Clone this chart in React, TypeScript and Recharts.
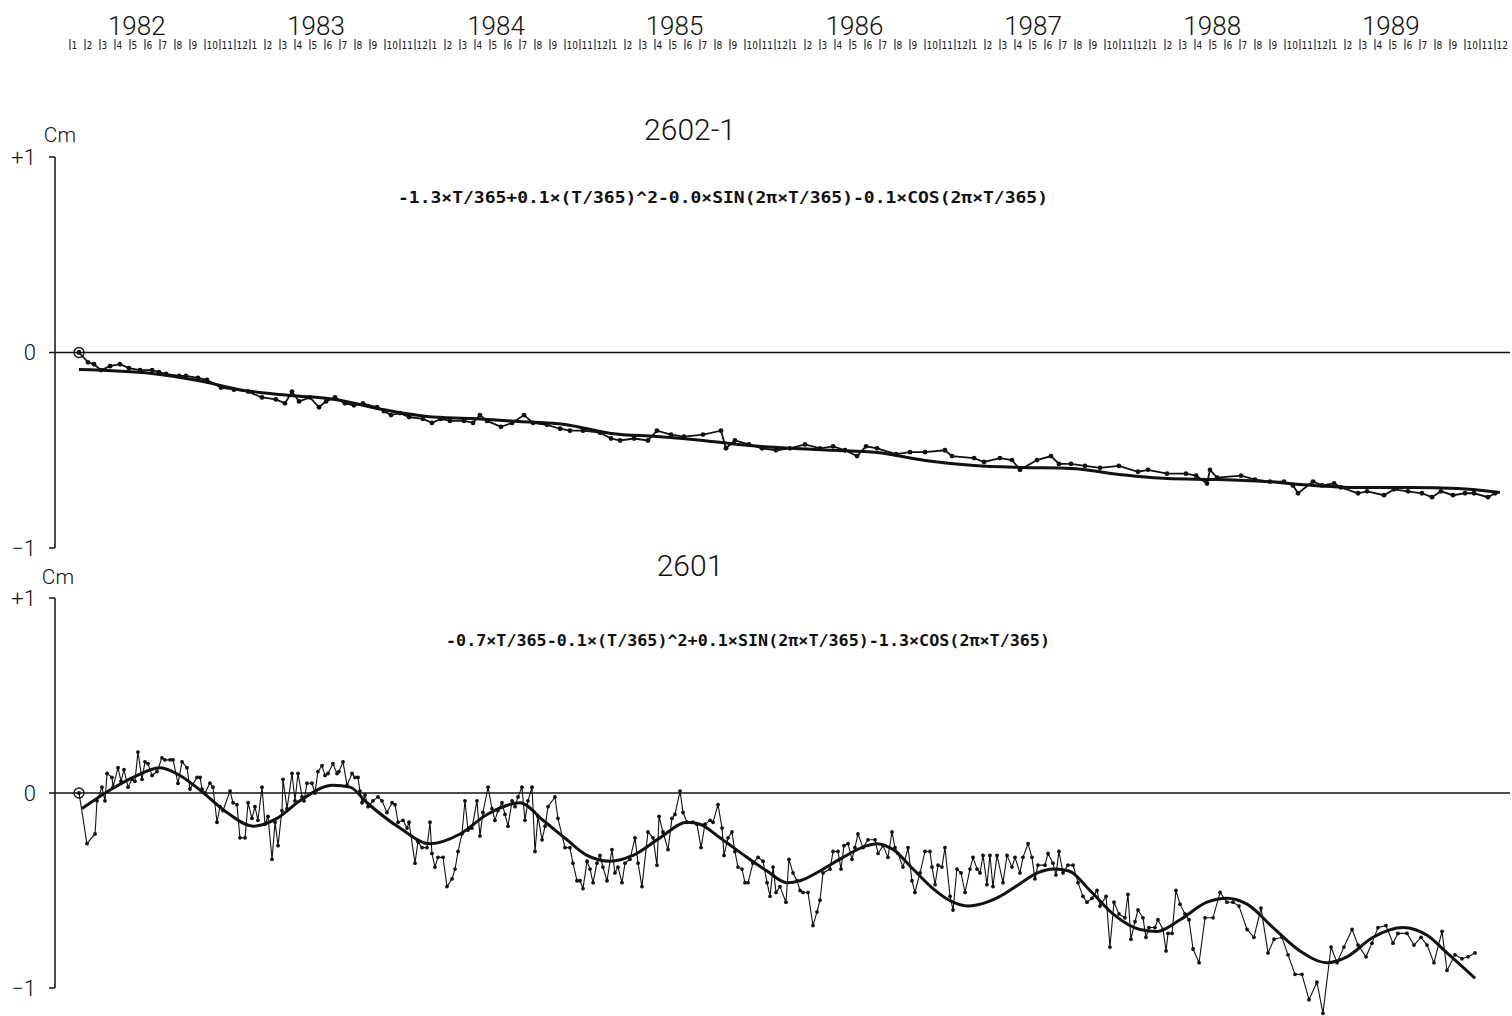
import { LineChart, Line, XAxis, YAxis, ReferenceLine, ReferenceDot } from 'recharts';

const INK = '#111';
const THIN = 'Roboto, "DejaVu Sans", sans-serif';

// x unit = months since Jan 1982
const YEARS = ['1982', '1983', '1984', '1985', '1986', '1987', '1988', '1989'];
const YEAR_POS = [4.45, 16.4, 28.4, 40.3, 52.3, 64.2, 76.15, 88.05];
const MONTH_LABELS = ['1', '2', '3', '4', '5', '6', '7', '8', '9', '10', '11', '12'];
const MONTH_TICKS = Array.from({ length: 96 }, (_, i) => i);
const X_DOMAIN: [number, number] = [-1, 96];

const TITLE_TOP = '2602-1';
const TITLE_BOT = '2601';
const FORMULA_TOP = '-1.3×T/365+0.1×(T/365)^2-0.0×SIN(2π×T/365)-0.1×COS(2π×T/365)';
const FORMULA_BOT = '-0.7×T/365-0.1×(T/365)^2+0.1×SIN(2π×T/365)-1.3×COS(2π×T/365)';

// 2602-1 observed [month, cm]
const TOP_OBS: [number, number][] = [
  [0.6, 0], [1.2, -0.05], [1.6, -0.06], [2.07, -0.09], [2.67, -0.07], [3.33, -0.06], [3.93, -0.08], [4.67, -0.09], [5.47, -0.09], [5.93, -0.1],
  [6.4, -0.11], [7.27, -0.12], [7.73, -0.12], [8.53, -0.13], [9.13, -0.14], [10.07, -0.18], [10.93, -0.19], [11.87, -0.2], [12.8, -0.23], [13.73, -0.24],
  [14.33, -0.26], [14.8, -0.2], [15.27, -0.25], [16.0, -0.23], [16.6, -0.28], [17.07, -0.25], [17.67, -0.23], [18.33, -0.26], [18.93, -0.27], [19.53, -0.26],
  [20.47, -0.28], [20.93, -0.3], [21.4, -0.32], [22.0, -0.31], [22.6, -0.33], [23.53, -0.34], [24.13, -0.36], [24.73, -0.34], [25.33, -0.35], [26.27, -0.35],
  [26.87, -0.36], [27.33, -0.32], [27.8, -0.35], [28.73, -0.38], [29.47, -0.36], [30.27, -0.32], [30.87, -0.36], [31.8, -0.37], [32.67, -0.39], [33.33, -0.4],
  [34.2, -0.4], [35.33, -0.41], [36.07, -0.44], [36.67, -0.45], [37.6, -0.44], [38.53, -0.45], [39.13, -0.4], [40.07, -0.42], [40.93, -0.43], [42.2, -0.42],
  [43.4, -0.4], [43.73, -0.49], [44.33, -0.45], [45.27, -0.47], [46.13, -0.49], [47.07, -0.5], [48.0, -0.49], [49.0, -0.47], [50.0, -0.49], [50.87, -0.48],
  [51.67, -0.5], [52.47, -0.53], [53.07, -0.48], [53.8, -0.49], [55.07, -0.52], [56.0, -0.51], [57.0, -0.51], [58.33, -0.5], [58.8, -0.53], [60.27, -0.54],
  [60.93, -0.56], [62.0, -0.54], [62.8, -0.55], [63.33, -0.6], [64.47, -0.55], [65.4, -0.53], [65.93, -0.57], [66.73, -0.57], [67.67, -0.58], [68.67, -0.59],
  [69.93, -0.58], [71.2, -0.61], [71.87, -0.6], [73.13, -0.62], [74.4, -0.62], [75.07, -0.63], [75.8, -0.67], [76.0, -0.6], [76.47, -0.64], [78.07, -0.63],
  [79.0, -0.65], [80.0, -0.66], [80.93, -0.66], [81.53, -0.68], [81.87, -0.72], [82.87, -0.66], [83.47, -0.68], [84.27, -0.67], [84.73, -0.69], [85.87, -0.72],
  [86.47, -0.71], [87.6, -0.73], [88.27, -0.7], [89.2, -0.71], [90.13, -0.72], [90.8, -0.74], [91.4, -0.71], [92.2, -0.73], [93.0, -0.72], [93.6, -0.72],
  [94.53, -0.74], [95.0, -0.72],
];

// 2602-1 fitted curve
const TOP_FIT: [number, number][] = [
  [0.6, -0.087], [5.47, -0.107], [8.53, -0.143], [11.6, -0.194], [14.67, -0.22], [17.67, -0.24], [20.73, -0.29], [23.8, -0.327],
  [26.87, -0.338], [29.93, -0.353], [33.0, -0.368], [36.07, -0.414], [39.13, -0.43], [42.2, -0.45], [45.27, -0.476], [48.0, -0.49],
  [50.9, -0.5], [53.8, -0.512], [57.0, -0.552], [60.27, -0.578], [63.47, -0.588], [66.73, -0.593], [69.93, -0.624], [73.13, -0.645],
  [76.4, -0.65], [79.67, -0.66], [82.87, -0.68], [86.13, -0.691], [89.33, -0.691], [92.53, -0.696], [95.33, -0.716],
];

// 2601 observed
const BOT_OBS: [number, number][] = [
  [0.6, 0], [1.13, -0.26], [1.67, -0.21], [1.8, -0.04], [2.13, 0.03], [2.33, -0.04], [2.47, 0.1], [2.8, 0.08], [2.87, 0.03], [3.2, 0.13],
  [3.4, 0.06], [3.6, 0.12], [3.87, 0.03], [4.13, 0.07], [4.33, 0.06], [4.53, 0.21], [4.8, 0.07], [5.0, 0.16], [5.2, 0.15], [5.47, 0.09],
  [5.8, 0.11], [6.13, 0.18], [6.33, 0.17], [6.67, 0.17], [6.87, 0.17], [7.2, 0.05], [7.47, 0.16], [7.8, 0.13], [8.0, 0.02], [8.47, 0.08],
  [8.67, 0.08], [8.8, 0.02], [9.0, 0.0], [9.33, 0.05], [9.53, 0.03], [9.8, -0.15], [10.0, -0.07], [10.2, -0.09], [10.67, 0.01], [10.87, -0.05],
  [11.13, -0.06], [11.33, -0.23], [11.67, -0.23], [11.87, -0.05], [12.13, -0.13], [12.33, -0.07], [12.53, -0.14], [12.8, 0.03], [13.0, -0.16], [13.2, -0.12],
  [13.47, -0.34], [13.67, -0.15], [13.87, -0.27], [14.13, -0.09], [14.2, 0.07], [14.47, -0.08], [14.8, 0.1], [15.0, -0.04], [15.2, 0.1], [15.47, -0.02],
  [15.6, -0.04], [15.8, 0.05], [16.13, 0.05], [16.33, 0.0], [16.53, 0.11], [16.8, 0.14], [17.0, 0.09], [17.2, 0.1], [17.53, 0.15], [17.8, 0.1],
  [17.93, 0.11], [18.2, 0.16], [18.47, 0.04], [18.8, 0.1], [19.0, 0.08], [19.2, 0.08], [19.33, 0.01], [19.47, -0.05], [19.67, -0.01], [19.87, -0.07],
  [20.2, -0.04], [20.53, -0.02], [20.8, -0.04], [21.13, -0.1], [21.47, -0.05], [21.67, -0.06], [21.87, -0.15], [22.2, -0.14], [22.47, -0.18], [22.6, -0.15],
  [23.0, -0.36], [23.2, -0.25], [23.47, -0.28], [23.8, -0.28], [24.0, -0.15], [24.13, -0.31], [24.33, -0.38], [24.53, -0.33], [24.87, -0.33], [25.13, -0.48],
  [25.47, -0.44], [25.67, -0.39], [25.87, -0.3], [26.13, -0.21], [26.33, -0.04], [26.53, -0.19], [26.8, -0.18], [27.13, -0.04], [27.33, -0.22], [27.53, -0.1],
  [27.87, 0.03], [28.13, -0.08], [28.33, -0.14], [28.53, -0.09], [28.8, -0.05], [29.0, -0.11], [29.2, -0.17], [29.47, -0.04], [29.67, -0.07], [29.87, -0.02],
  [30.13, 0.03], [30.33, -0.14], [30.53, -0.04], [30.8, 0.03], [31.0, -0.3], [31.2, -0.12], [31.47, -0.24], [31.67, -0.17], [31.87, -0.07], [32.33, -0.02],
  [32.53, -0.13], [33.0, -0.28], [33.33, -0.28], [33.53, -0.36], [33.8, -0.45], [34.0, -0.45], [34.2, -0.49], [34.47, -0.35], [34.67, -0.39], [34.87, -0.46],
  [35.13, -0.36], [35.33, -0.32], [35.53, -0.38], [35.8, -0.45], [36.13, -0.29], [36.33, -0.41], [36.53, -0.38], [36.8, -0.46], [37.0, -0.36], [37.33, -0.34],
  [37.67, -0.23], [37.87, -0.36], [38.13, -0.48], [38.53, -0.2], [38.87, -0.23], [39.13, -0.37], [39.27, -0.12], [39.53, -0.2], [39.87, -0.29], [40.13, -0.13],
  [40.33, -0.11], [40.67, 0.01], [40.87, -0.1], [41.13, -0.15], [41.53, -0.15], [41.8, -0.16], [42.07, -0.28], [42.33, -0.16], [42.67, -0.14], [42.87, -0.15],
  [43.2, -0.06], [43.47, -0.18], [43.6, -0.32], [43.87, -0.23], [44.13, -0.2], [44.33, -0.3], [44.53, -0.38], [44.8, -0.39], [45.0, -0.46], [45.2, -0.46],
  [45.53, -0.36], [45.87, -0.33], [46.2, -0.35], [46.47, -0.46], [46.67, -0.53], [46.87, -0.38], [47.07, -0.51], [47.33, -0.48], [47.73, -0.56], [47.93, -0.34],
  [48.2, -0.41], [48.47, -0.45], [48.67, -0.5], [48.87, -0.51], [49.2, -0.51], [49.53, -0.68], [49.8, -0.61], [50.0, -0.55], [50.2, -0.41], [50.67, -0.39],
  [50.87, -0.3], [51.2, -0.3], [51.4, -0.39], [51.6, -0.27], [51.87, -0.26], [52.13, -0.34], [52.33, -0.28], [52.53, -0.21], [52.87, -0.28], [53.2, -0.24],
  [53.67, -0.24], [53.87, -0.31], [54.2, -0.27], [54.53, -0.33], [54.8, -0.2], [55.0, -0.28], [55.2, -0.31], [55.53, -0.38], [55.87, -0.28], [56.13, -0.45],
  [56.33, -0.51], [56.67, -0.41], [57.0, -0.3], [57.33, -0.3], [57.47, -0.38], [57.67, -0.47], [57.87, -0.37], [58.13, -0.38], [58.33, -0.28], [58.67, -0.53],
  [58.87, -0.6], [59.13, -0.39], [59.4, -0.41], [59.67, -0.51], [60.0, -0.39], [60.2, -0.33], [60.47, -0.39], [60.67, -0.41], [60.87, -0.32], [61.13, -0.47],
  [61.33, -0.32], [61.53, -0.48], [61.8, -0.32], [62.2, -0.46], [62.47, -0.32], [62.8, -0.38], [63.0, -0.33], [63.33, -0.41], [63.53, -0.33], [63.87, -0.26],
  [64.13, -0.33], [64.33, -0.44], [64.53, -0.37], [65.0, -0.37], [65.2, -0.31], [65.53, -0.36], [65.73, -0.42], [65.93, -0.3], [66.2, -0.41], [66.53, -0.37],
  [66.87, -0.37], [67.2, -0.46], [67.53, -0.53], [67.8, -0.56], [68.13, -0.54], [68.47, -0.5], [68.67, -0.58], [69.07, -0.53], [69.33, -0.79], [69.6, -0.56],
  [69.93, -0.62], [70.33, -0.64], [70.53, -0.52], [70.73, -0.75], [71.0, -0.66], [71.2, -0.6], [71.53, -0.64], [71.73, -0.74], [71.93, -0.69], [72.33, -0.69],
  [72.53, -0.65], [72.87, -0.7], [73.07, -0.81], [73.2, -0.72], [73.47, -0.72], [73.73, -0.5], [74.0, -0.57], [74.33, -0.62], [74.6, -0.65], [74.87, -0.8],
  [75.27, -0.87], [75.67, -0.64], [76.2, -0.64], [76.67, -0.51], [77.13, -0.56], [77.53, -0.56], [77.93, -0.58], [78.47, -0.7], [78.93, -0.74], [79.4, -0.59],
  [79.87, -0.82], [80.27, -0.75], [80.8, -0.74], [81.2, -0.83], [81.67, -0.93], [82.13, -0.93], [82.6, -1.06], [83.13, -0.97], [83.53, -1.13], [84.07, -0.79],
  [84.47, -0.87], [84.93, -0.79], [85.47, -0.7], [85.87, -0.78], [86.4, -0.84], [86.8, -0.77], [87.2, -0.69], [87.73, -0.68], [88.2, -0.77], [88.53, -0.72],
  [89.13, -0.72], [89.6, -0.78], [90.07, -0.74], [90.47, -0.78], [90.93, -0.87], [91.47, -0.71], [91.8, -0.91], [92.33, -0.83], [92.8, -0.85], [93.2, -0.84],
  [93.67, -0.82],
];

// 2601 fitted curve
const BOT_FIT: [number, number][] = [
  [0.8, -0.08], [2.67, 0.015], [4.2, 0.08], [6.0, 0.13], [7.33, 0.09], [8.67, 0.015], [10.47, -0.1], [12.2, -0.17], [13.8, -0.13], [15.33, -0.04],
  [17.53, 0.04], [18.67, 0.03], [19.8, -0.05], [22.0, -0.18], [24.0, -0.26], [26.0, -0.21], [27.8, -0.11], [30.0, -0.05], [31.53, -0.14], [33.13, -0.24],
  [34.47, -0.32], [36.0, -0.35], [37.53, -0.32], [39.33, -0.23], [41.13, -0.15], [42.0, -0.16], [43.33, -0.23], [45.13, -0.33], [46.47, -0.4], [47.8, -0.46],
  [48.67, -0.45], [50.0, -0.4], [51.53, -0.33], [53.13, -0.27], [53.8, -0.26], [54.87, -0.29], [56.2, -0.39], [57.53, -0.49], [58.87, -0.56], [59.87, -0.58],
  [61.13, -0.56], [62.0, -0.53], [63.33, -0.465], [64.5, -0.41], [65.6, -0.39], [66.6, -0.40], [68.0, -0.5], [69.53, -0.62], [71.33, -0.7], [72.47, -0.71], [74.0, -0.65],
  [75.8, -0.56], [77.13, -0.54], [78.47, -0.57], [80.2, -0.69], [82.0, -0.81], [83.8, -0.87], [85.13, -0.84], [86.87, -0.74], [88.87, -0.69], [90.47, -0.73],
  [91.8, -0.82], [93.67, -0.95],
];

const Y_TICKS = [-1, 0, 1];

const toRows = (pts: [number, number][]) => pts.map(([m, v]) => ({ m, v }));
const fmtY = (v: number) => (v > 0 ? '+1' : v < 0 ? '−1' : '0');

// month tick: short bar at the month start, number right of it
const MonthTick = ({ x, y, payload }: any) => (
  <g>
    <line x1={x} x2={x} y1={y - 6} y2={y + 5} stroke={INK} strokeWidth={1} />
    <text x={x + 1.5} y={y + 4} fontSize={10} fill={INK}
      fontFamily='"Liberation Sans Narrow", "DejaVu Sans Condensed", "Liberation Sans", sans-serif'>
      {MONTH_LABELS[payload.value % 12]}
    </text>
  </g>
);

const yTickStyle = { fontSize: 22, fill: INK, fontFamily: THIN, fontWeight: 300 };

function Panel({ obs, fit, top, height, marginTop, marginBottom, domain, ownAxis, dotR, lineW }: any) {
  const obsRows = toRows(obs);
  const fitRows = toRows(fit);
  return (
    <div style={{ position: 'absolute', left: 0, top }}>
      <LineChart width={1512} height={height} margin={{ top: marginTop, right: 2, bottom: marginBottom, left: 0 }}>
        <XAxis type="number" dataKey="m" domain={X_DOMAIN} hide />
        <YAxis type="number" domain={domain} ticks={Y_TICKS} width={55} tickFormatter={fmtY}
          tickSize={6} tickMargin={13} tick={yTickStyle} interval={0}
          axisLine={ownAxis ? { stroke: INK, strokeWidth: 1.5 } : false}
          tickLine={{ stroke: INK, strokeWidth: 1.5 }} />
        {!ownAxis && (
          <ReferenceLine segment={[{ x: -1, y: -1 }, { x: -1, y: 1 }]} stroke={INK} strokeWidth={1.5} />
        )}
        <ReferenceLine y={0} stroke={INK} strokeWidth={1.5} />
        <Line data={fitRows} dataKey="v" type="monotone" stroke={INK} strokeWidth={3}
          dot={false} isAnimationActive={false} />
        <Line data={obsRows} dataKey="v" type="linear" stroke={INK} strokeWidth={lineW}
          dot={{ r: dotR, fill: INK, stroke: 'none' }} isAnimationActive={false} />
        <ReferenceDot x={obsRows[0].m} y={obsRows[0].v} r={5} fill="none" stroke={INK} strokeWidth={1.3} />
      </LineChart>
    </div>
  );
}

export default function App() {
  const headerRows = MONTH_TICKS.map((m) => ({ m }));
  return (
    <div style={{ position: 'absolute', left: 0, top: 0, width: 1512, height: 1016, overflow: 'hidden', background: '#fff' }}>
      {/* year / month header */}
      <div style={{ position: 'absolute', left: 0, top: 0 }}>
        <LineChart width={1512} height={62} data={headerRows} margin={{ top: 0, right: 2, bottom: 0, left: 55 }}>
          <XAxis xAxisId="yr" orientation="top" type="number" dataKey="m" domain={X_DOMAIN}
            ticks={YEAR_POS} interval={0} height={37} axisLine={false} tickLine={false}
            tickSize={0} tickMargin={2} tickFormatter={(_v: number, i: number) => YEARS[i]}
            tick={{ fontSize: 26, fill: INK, fontFamily: THIN, fontWeight: 300 }} />
          <XAxis xAxisId="mo" orientation="bottom" type="number" dataKey="m" domain={X_DOMAIN}
            ticks={MONTH_TICKS} interval={0} height={17} axisLine={false} tickLine={false}
            tickSize={0} tickMargin={0} tick={<MonthTick />} />
          <YAxis hide domain={[0, 1]} />
          <Line xAxisId="mo" dataKey="m" stroke="none" dot={false} isAnimationActive={false} />
        </LineChart>
      </div>

      <Panel obs={TOP_OBS} fit={TOP_FIT} top={0} height={562} marginTop={157} marginBottom={14}
        domain={[-1, 1]} ownAxis dotR={2.4} lineW={1.8} />
      <Panel obs={BOT_OBS} fit={BOT_FIT} top={560} height={467} marginTop={38} marginBottom={0}
        domain={[-1.2, 1]} ownAxis={false} dotR={1.9} lineW={1.1} />

      {/* titles, units, fitted formulas */}
      <svg width={1512} height={1016} style={{ position: 'absolute', left: 0, top: 0, pointerEvents: 'none' }}>
        <text x={690} y={140} textAnchor="middle" fontSize={30} fontFamily={THIN} fontWeight={300} fill={INK}>{TITLE_TOP}</text>
        <text x={690} y={576} textAnchor="middle" fontSize={30} fontFamily={THIN} fontWeight={300} fill={INK}>{TITLE_BOT}</text>
        <text x={60} y={142} textAnchor="middle" fontSize={21} fontFamily={THIN} fontWeight={300} fill={INK}>Cm</text>
        <text x={58} y={584} textAnchor="middle" fontSize={21} fontFamily={THIN} fontWeight={300} fill={INK}>Cm</text>
        <text x={398} y={203} textLength={650} lengthAdjust="spacingAndGlyphs" fontSize={15}
          fontFamily='"DejaVu Sans Mono", monospace' fontWeight="bold" fill={INK}>{FORMULA_TOP}</text>
        <text x={446} y={646} textLength={604} lengthAdjust="spacingAndGlyphs" fontSize={15}
          fontFamily='"DejaVu Sans Mono", monospace' fontWeight="bold" fill={INK}>{FORMULA_BOT}</text>
      </svg>
    </div>
  );
}
